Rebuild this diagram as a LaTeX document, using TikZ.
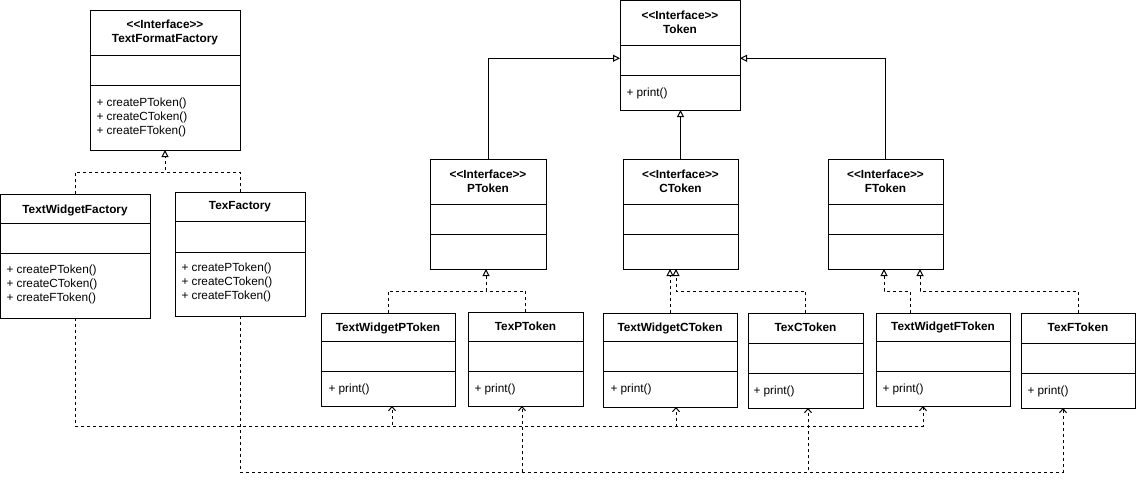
\documentclass[tikz,border=0pt]{standalone}
\usepackage{fontspec}
\setmainfont{Liberation Sans}
\usetikzlibrary{arrows.meta,calc}
\newcommand\stereo{<\kern0pt<Interface>\kern0pt>}
\newcommand\divs[3]{%
  \draw ($(#1.north west)+(0,#2)$) -- ($(#1.north east)+(0,#2)$);
  \draw ($(#1.north west)+(0,#3)$) -- ($(#1.north east)+(0,#3)$);}
\begin{document}
\begin{tikzpicture}[x=1pt,y=-1pt,line width=1pt,
  box/.style={draw,rectangle,inner sep=0pt,outer sep=0pt,fill=white},
  ttl/.style={inner sep=0pt,align=center,font=\bfseries\fontsize{11.8}{14}\selectfont},
  mth/.style={inner sep=0pt,align=left,anchor=west,font=\fontsize{11.8}{14}\selectfont},
  gen/.style={-{Triangle[open,length=7pt,width=7pt]}},
  real/.style={gen,dash pattern=on 3pt off 3pt},
  dep/.style={dash pattern=on 3pt off 3pt,-{Straight Barb[length=4pt,width=7pt]}}]
\useasboundingbox (0,0) rectangle (1136,480);
\coordinate (busA) at (0,426);
\coordinate (busB) at (0,472);

% factories
\node[box,minimum width=150pt,minimum height=140pt] (tff) at (165,80) {};
\divs{tff}{45}{75}
\node[ttl] (tffT) at (165,32) {\stereo\\TextFormatFactory};
\node[mth] (tffM) at (96,117) {+ createPToken()\\+ createCToken()\\+ createFToken()};

\node[box,minimum width=149.5pt,minimum height=124pt] (twf) at (75.25,256) {};
\divs{twf}{29}{59}
\node[ttl] (twfT) at (75,210) {TextWidgetFactory};
\node[mth] (twfM) at (6,284) {+ createPToken()\\+ createCToken()\\+ createFToken()};

\node[box,minimum width=130pt,minimum height=124pt] (txf) at (240,254) {};
\divs{txf}{29}{60}
\node[ttl] (txfT) at (240,207) {TexFactory};
\node[mth] (txfM) at (181,282) {+ createPToken()\\+ createCToken()\\+ createFToken()};

% token interfaces
\node[box,minimum width=120pt,minimum height=109.5pt] (tok) at (680,55.25) {};
\divs{tok}{45}{75}
\node[ttl] (tokT) at (680,22) {\stereo\\Token};
\node[mth] (tokM) at (626,93) {+ print()};

\node[box,minimum width=116pt,minimum height=110pt] (pt) at (488,214) {};
\divs{pt}{45}{75}
\node[ttl] (ptT) at (488,181) {\stereo\\PToken};

\node[box,minimum width=115pt,minimum height=110pt] (ct) at (680.5,214) {};
\divs{ct}{45}{75}
\node[ttl] (ctT) at (680.5,181) {\stereo\\CToken};

\node[box,minimum width=115pt,minimum height=110pt] (ft) at (885.5,214) {};
\divs{ft}{45}{75}
\node[ttl] (ftT) at (885.5,181) {\stereo\\FToken};

% concrete tokens
\node[box,minimum width=134pt,minimum height=93pt] (twp) at (388,359.5) {};
\divs{twp}{28}{58}
\node[ttl] (twpT) at (388,328) {TextWidgetPToken};
\node[mth] (twpM) at (328,389) {+ print()};

\node[box,minimum width=115pt,minimum height=94pt] (txp) at (525.5,359) {};
\divs{txp}{29}{59}
\node[ttl] (txpT) at (525.5,326) {TexPToken};
\node[mth] (txpM) at (474,389) {+ print()};

\node[box,minimum width=134pt,minimum height=94pt] (twc) at (670,360) {};
\divs{twc}{28}{58}
\node[ttl] (twcT) at (670,328) {TextWidgetCToken};
\node[mth] (twcM) at (610,389) {+ print()};

\node[box,minimum width=115pt,minimum height=95pt] (txc) at (805.5,360.5) {};
\divs{txc}{30}{60}
\node[ttl] (txcT) at (805.5,327) {TexCToken};
\node[mth] (txcM) at (753,391) {+ print()};

\node[box,minimum width=134pt,minimum height=93pt] (twfk) at (943,359.5) {};
\divs{twfk}{28}{58}
\node[ttl] (twfkT) at (943,327) {TextWidgetFToken};
\node[mth] (twfkM) at (882,389) {+ print()};

\node[box,minimum width=114pt,minimum height=95pt] (txfk) at (1078,360.5) {};
\divs{txfk}{30}{60}
\node[ttl] (txfkT) at (1078,327) {TexFToken};
\node[mth] (txfkM) at (1027,391) {+ print()};

% generalization to Token
\draw[gen] (pt.north) |- ($(tok.west)+(0,3)$);
\draw[gen] (ft.north) |- ($(tok.east)+(0,3)$);
\draw[gen] (ct.north) -- (ct.north |- tok.south);

% realizations
\draw[real] (twf.north) |- ($(tff.south)+(0,22)$) -- (tff.south);
\draw[dash pattern=on 3pt off 3pt] (txf.north) |- ($(tff.south)+(0,22)$);

\draw[real] (twp.north) |- ($(pt.south)+(-2,22)$) -- ($(pt.south)+(-2,0)$);
\draw[dash pattern=on 3pt off 3pt] (txp.north) |- ($(pt.south)+(-2,22)$);

\draw[real] ($(twc.north)+(0,0)$) -- ($(twc.north |- ct.south)$);
\draw[real] (txc.north) |- ($(ct.south)+(-4.5,22)$) -- ($(ct.south)+(-4.5,0)$);

\draw[real] ($(twfk.north)+(-33,0)$) |- ($(ft.south)+(-1.5,22)$) -- ($(ft.south)+(-1.5,0)$);
\draw[real] (txfk.north) |- ($(ft.south)+(34.5,22)$) -- ($(ft.south)+(34.5,0)$);

% dependencies
\draw[dep] (twf.south) |- ($(twp.south|-busA)+(4,0)$) -- ($(twp.south)+(4,0)$);
\draw[dep] (twf.south) |- ($(twc.south|-busA)+(6,0)$) -- ($(twc.south)+(6,0)$);
\draw[dep] (twf.south) |- ($(twfk.south|-busA)+(-20,0)$) -- ($(twfk.south)+(-20,0)$);

\draw[dep] (txf.south) |- ($(txp.south|-busB)+(-3.5,0)$) -- ($(txp.south)+(-3.5,0)$);
\draw[dep] (txf.south) |- ($(txc.south|-busB)+(2.5,0)$) -- ($(txc.south)+(2.5,0)$);
\draw[dep] (txf.south) |- ($(txfk.south|-busB)+(-15,0)$) -- ($(txfk.south)+(-15,0)$);
\end{tikzpicture}
\end{document}
